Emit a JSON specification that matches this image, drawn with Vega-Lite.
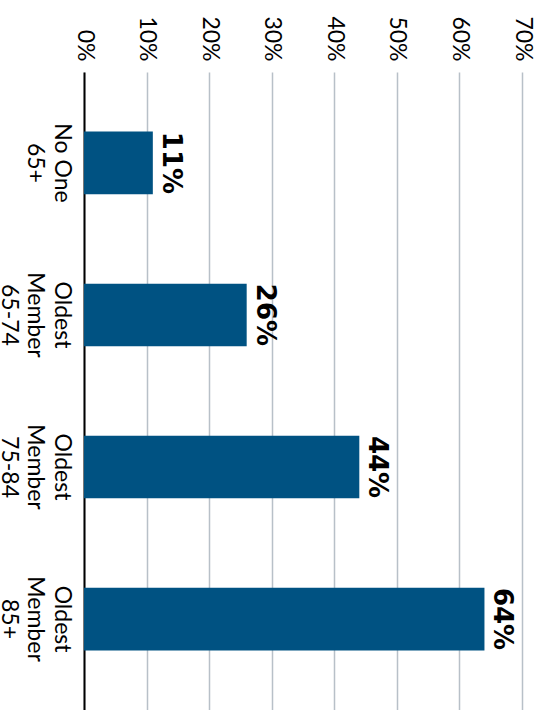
{
  "$schema": "https://vega.github.io/schema/vega-lite/v6.json",
  "width": 438,
  "height": 638,
  "autosize": {"type": "none"},
  "padding": {"left": 84, "top": 72, "right": 17, "bottom": 0},
  "background": "white",
  "data": {
    "values": [
      {"group": "No One|65+", "share": 0.11},
      {"group": "Oldest|Member|65-74", "share": 0.26},
      {"group": "Oldest|Member|75-84", "share": 0.44},
      {"group": "Oldest|Member|85+", "share": 0.64}
    ]
  },
  "encoding": {
    "y": {
      "field": "group",
      "type": "nominal",
      "sort": null,
      "scale": {"paddingInner": 0.5875, "paddingOuter": 0.392},
      "axis": {
        "title": null,
        "orient": "left",
        "domain": true,
        "domainColor": "black",
        "domainWidth": 2,
        "ticks": false,
        "grid": false,
        "labelAngle": 90,
        "labelAlign": "center",
        "labelBaseline": "top",
        "labelPadding": 12,
        "labelExpr": "split(datum.value, '|')",
        "labelFont": "Lato",
        "labelFontSize": 23,
        "labelLineHeight": 26.5,
        "labelColor": "black"
      }
    },
    "x": {
      "field": "share",
      "type": "quantitative",
      "scale": {"domain": [0, 0.7], "nice": false},
      "axis": {
        "title": null,
        "orient": "top",
        "format": ".0%",
        "values": [0, 0.1, 0.2, 0.3, 0.4, 0.5, 0.6, 0.7],
        "domain": false,
        "ticks": false,
        "grid": true,
        "gridColor": "#b8c0c8",
        "gridWidth": 1.5,
        "labelAngle": 90,
        "labelAlign": "right",
        "labelBaseline": "middle",
        "labelPadding": 11,
        "labelFlush": false,
        "labelOverlap": false,
        "labelFont": "Lato",
        "labelFontSize": 23,
        "labelColor": "black"
      }
    }
  },
  "layer": [
    {"mark": {"type": "bar", "color": "#005282"}},
    {
      "mark": {
        "type": "text",
        "angle": 90,
        "align": "center",
        "baseline": "alphabetic",
        "dy": -10,
        "font": "DejaVu Sans",
        "fontWeight": "bold",
        "fontSize": 26,
        "color": "black"
      },
      "encoding": {"text": {"field": "share", "format": ".0%"}}
    }
  ],
  "config": {"view": {"stroke": null}}
}
